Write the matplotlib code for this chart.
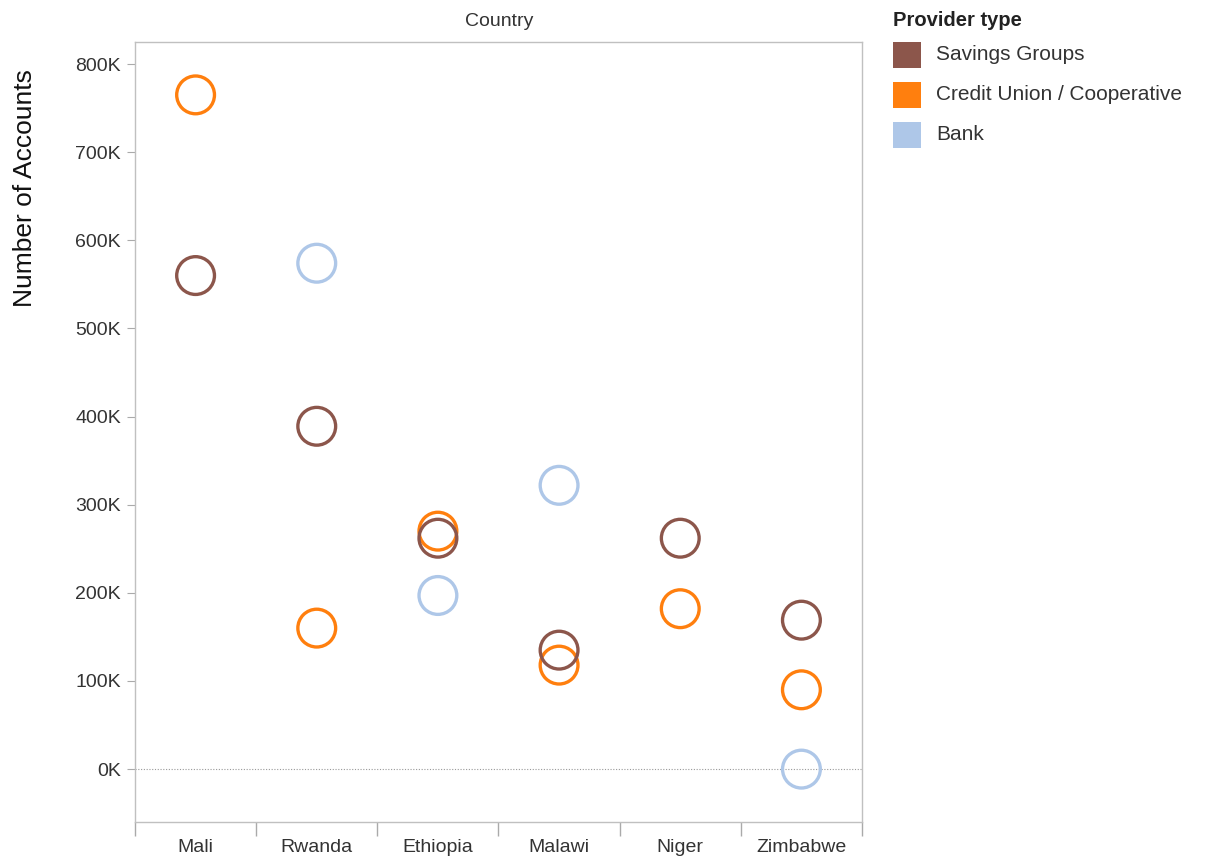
import matplotlib
matplotlib.use("Agg")
import matplotlib.pyplot as plt
from matplotlib.patches import Rectangle
from matplotlib.ticker import FuncFormatter

plt.rcParams['font.family'] = ['Liberation Sans', 'DejaVu Sans']

countries = ["Mali", "Rwanda", "Ethiopia", "Malawi", "Niger", "Zimbabwe"]
provider_types = ["Savings Groups", "Credit Union / Cooperative", "Bank"]
colors = {"Savings Groups": "#8c564b", "Credit Union / Cooperative": "#ff7f0e", "Bank": "#aec7e8"}

savings_groups = [560000, 389000, 262000, 135000, 262000, 169000]
credit_union = [765000, 160000, 270000, 118000, 182000, 90000]
bank = [None, 574000, 197000, 322000, None, 0]

series = {"Savings Groups": savings_groups, "Credit Union / Cooperative": credit_union, "Bank": bank}

W, H = 1212, 856
fig = plt.figure(figsize=(W/100, H/100), dpi=100)
ax = fig.add_axes([135/W, 1-822/H, (862-135)/W, (822-42)/H])

for name in ["Bank", "Credit Union / Cooperative", "Savings Groups"]:
    xs, ys = [], []
    for i, v in enumerate(series[name]):
        if v is not None:
            xs.append(i); ys.append(v)
    ax.scatter(xs, ys, s=740, facecolors='none', edgecolors=colors[name], linewidths=2.4, zorder=3)

ax.set_xlim(-0.5, 5.5)
ax.set_ylim(-60000, 825000)
ax.axhline(0, color='#999999', linestyle=(0, (1, 1.5)), linewidth=0.8, zorder=1)

ax.set_yticks(range(0, 800001, 100000))
ax.yaxis.set_major_formatter(FuncFormatter(lambda v, p: f"{int(v/1000)}K"))
ax.set_xticks(range(len(countries)))
ax.set_xticklabels(countries)
ax.set_xticks([i - 0.5 for i in range(len(countries) + 1)], minor=True)
ax.tick_params(axis='x', which='major', length=0, pad=12, labelsize=14, colors='#333333')
ax.tick_params(axis='x', which='minor', length=10, color='#aaaaaa', width=1)
ax.tick_params(axis='y', length=6, color='#aaaaaa', labelsize=14, labelcolor='#333333', pad=4)

for sp in ax.spines.values():
    sp.set_color('#c0c0c0')
    sp.set_linewidth(1)

fig.text(25/W, 1-188/H, "Number of Accounts", rotation=90, fontsize=19, color='#111111',
         ha='center', va='center')
fig.text(499/W, 1-22/H, "Country", fontsize=14, color='#333333', ha='center', va='center')

# legend
fig.text(893/W, 1-20/H, "Provider type", fontsize=14.5, fontweight='bold', color='#222222',
         ha='left', va='center')
for k, name in enumerate(provider_types):
    yc = 55 + 40 * k
    fig.patches.append(Rectangle((893/W, 1-(yc+13)/H), 28/W, 26/H, transform=fig.transFigure,
                                 facecolor=colors[name], edgecolor='none'))
    fig.text(936/W, 1-yc/H, name, fontsize=15, color='#333333', ha='left', va='center')

fig.savefig("out.png", dpi=100)
